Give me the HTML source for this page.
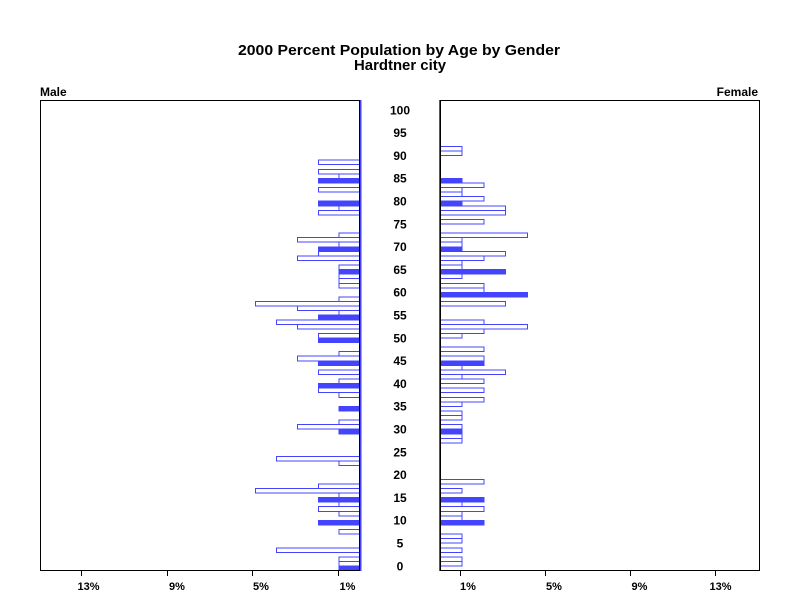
<!DOCTYPE html>
<html>
<head>
<meta charset="utf-8">
<style>
html,body{margin:0;padding:0;background:#fff;}
svg{display:block;}
text{font-family:"Liberation Sans",Arial,sans-serif;fill:#000;}
</style>
</head>
<body>
<svg width="800" height="600" viewBox="0 0 800 600" xmlns="http://www.w3.org/2000/svg">
<rect x="0" y="0" width="800" height="600" fill="#fff"/>
<text x="399" y="55" font-size="15" font-weight="bold" text-anchor="middle" textLength="322" lengthAdjust="spacingAndGlyphs">2000 Percent Population by Age by Gender</text>
<text x="400" y="70" font-size="15" font-weight="bold" text-anchor="middle" textLength="92" lengthAdjust="spacingAndGlyphs">Hardtner city</text>
<text x="40" y="96" font-size="12" font-weight="bold">Male</text>
<text x="758" y="96" font-size="12" font-weight="bold" text-anchor="end">Female</text>

<!-- Male bars -->
<g stroke="#4444ff" stroke-width="1" fill="#fff" shape-rendering="crispEdges">
<rect x="339.1" y="566" width="20.9" height="4.56" fill="#4444ff"/>
<rect x="339.1" y="561.44" width="20.9" height="4.56"/>
<rect x="339.1" y="556.88" width="20.9" height="4.56"/>
<rect x="276.6" y="547.76" width="83.4" height="4.56"/>
<rect x="339.1" y="529.52" width="20.9" height="4.56"/>
<rect x="318.3" y="520.4" width="41.7" height="4.56" fill="#4444ff"/>
<rect x="339.1" y="511.28" width="20.9" height="4.56"/>
<rect x="318.3" y="506.72" width="41.7" height="4.56"/>
<rect x="339.1" y="502.16" width="20.9" height="4.56"/>
<rect x="318.3" y="497.6" width="41.7" height="4.56" fill="#4444ff"/>
<rect x="339.1" y="493.04" width="20.9" height="4.56"/>
<rect x="255.7" y="488.48" width="104.3" height="4.56"/>
<rect x="318.3" y="483.92" width="41.7" height="4.56"/>
<rect x="339.1" y="461.12" width="20.9" height="4.56"/>
<rect x="276.6" y="456.56" width="83.4" height="4.56"/>
<rect x="339.1" y="429.2" width="20.9" height="4.56" fill="#4444ff"/>
<rect x="297.4" y="424.64" width="62.6" height="4.56"/>
<rect x="339.1" y="420.08" width="20.9" height="4.56"/>
<rect x="339.1" y="406.4" width="20.9" height="4.56" fill="#4444ff"/>
<rect x="339.1" y="392.72" width="20.9" height="4.56"/>
<rect x="318.3" y="388.16" width="41.7" height="4.56"/>
<rect x="318.3" y="383.6" width="41.7" height="4.56" fill="#4444ff"/>
<rect x="339.1" y="379.04" width="20.9" height="4.56"/>
<rect x="318.3" y="369.92" width="41.7" height="4.56"/>
<rect x="318.3" y="360.8" width="41.7" height="4.56" fill="#4444ff"/>
<rect x="297.4" y="356.24" width="62.6" height="4.56"/>
<rect x="339.1" y="351.68" width="20.9" height="4.56"/>
<rect x="318.3" y="338" width="41.7" height="4.56" fill="#4444ff"/>
<rect x="318.3" y="333.44" width="41.7" height="4.56"/>
<rect x="297.4" y="324.32" width="62.6" height="4.56"/>
<rect x="276.6" y="319.76" width="83.4" height="4.56"/>
<rect x="318.3" y="315.2" width="41.7" height="4.56" fill="#4444ff"/>
<rect x="339.1" y="310.64" width="20.9" height="4.56"/>
<rect x="297.4" y="306.08" width="62.6" height="4.56"/>
<rect x="255.7" y="301.52" width="104.3" height="4.56"/>
<rect x="339.1" y="296.96" width="20.9" height="4.56"/>
<rect x="339.1" y="283.28" width="20.9" height="4.56"/>
<rect x="339.1" y="278.72" width="20.9" height="4.56"/>
<rect x="339.1" y="274.16" width="20.9" height="4.56"/>
<rect x="339.1" y="269.6" width="20.9" height="4.56" fill="#4444ff"/>
<rect x="339.1" y="265.04" width="20.9" height="4.56"/>
<rect x="297.4" y="255.92" width="62.6" height="4.56"/>
<rect x="318.3" y="251.36" width="41.7" height="4.56"/>
<rect x="318.3" y="246.8" width="41.7" height="4.56" fill="#4444ff"/>
<rect x="339.1" y="242.24" width="20.9" height="4.56"/>
<rect x="297.4" y="237.68" width="62.6" height="4.56"/>
<rect x="339.1" y="233.12" width="20.9" height="4.56"/>
<rect x="318.3" y="210.32" width="41.7" height="4.56"/>
<rect x="339.1" y="205.76" width="20.9" height="4.56"/>
<rect x="318.3" y="201.2" width="41.7" height="4.56" fill="#4444ff"/>
<rect x="318.3" y="187.52" width="41.7" height="4.56"/>
<rect x="318.3" y="178.4" width="41.7" height="4.56" fill="#4444ff"/>
<rect x="339.1" y="173.84" width="20.9" height="4.56"/>
<rect x="318.3" y="169.28" width="41.7" height="4.56"/>
<rect x="318.3" y="160.16" width="41.7" height="4.56"/>
</g>

<!-- Female bars -->
<g stroke="#4444ff" stroke-width="1" fill="#fff" shape-rendering="crispEdges">
<rect x="440" y="561.44" width="21.9" height="4.56"/>
<rect x="440" y="556.88" width="21.9" height="4.56"/>
<rect x="440" y="547.76" width="21.9" height="4.56"/>
<rect x="440" y="538.64" width="21.9" height="4.56"/>
<rect x="440" y="534.08" width="21.9" height="4.56"/>
<rect x="440" y="520.4" width="43.8" height="4.56" fill="#4444ff"/>
<rect x="440" y="515.84" width="21.9" height="4.56"/>
<rect x="440" y="511.28" width="21.9" height="4.56"/>
<rect x="440" y="506.72" width="43.8" height="4.56"/>
<rect x="440" y="502.16" width="21.9" height="4.56"/>
<rect x="440" y="497.6" width="43.8" height="4.56" fill="#4444ff"/>
<rect x="440" y="488.48" width="21.9" height="4.56"/>
<rect x="440" y="479.36" width="43.8" height="4.56"/>
<rect x="440" y="438.32" width="21.9" height="4.56"/>
<rect x="440" y="433.76" width="21.9" height="4.56"/>
<rect x="440" y="429.2" width="21.9" height="4.56" fill="#4444ff"/>
<rect x="440" y="424.64" width="21.9" height="4.56"/>
<rect x="440" y="415.52" width="21.9" height="4.56"/>
<rect x="440" y="410.96" width="21.9" height="4.56"/>
<rect x="440" y="401.84" width="21.9" height="4.56"/>
<rect x="440" y="397.28" width="43.8" height="4.56"/>
<rect x="440" y="388.16" width="43.8" height="4.56"/>
<rect x="440" y="379.04" width="43.8" height="4.56"/>
<rect x="440" y="374.48" width="21.9" height="4.56"/>
<rect x="440" y="369.92" width="65.7" height="4.56"/>
<rect x="440" y="365.36" width="21.9" height="4.56"/>
<rect x="440" y="360.8" width="43.8" height="4.56" fill="#4444ff"/>
<rect x="440" y="356.24" width="43.8" height="4.56"/>
<rect x="440" y="347.12" width="43.8" height="4.56"/>
<rect x="440" y="333.44" width="21.9" height="4.56"/>
<rect x="440" y="328.88" width="43.8" height="4.56"/>
<rect x="440" y="324.32" width="87.6" height="4.56"/>
<rect x="440" y="319.76" width="43.8" height="4.56"/>
<rect x="440" y="301.52" width="65.7" height="4.56"/>
<rect x="440" y="292.4" width="87.6" height="4.56" fill="#4444ff"/>
<rect x="440" y="287.84" width="43.8" height="4.56"/>
<rect x="440" y="283.28" width="43.8" height="4.56"/>
<rect x="440" y="274.16" width="21.9" height="4.56"/>
<rect x="440" y="269.6" width="65.7" height="4.56" fill="#4444ff"/>
<rect x="440" y="265.04" width="21.9" height="4.56"/>
<rect x="440" y="260.48" width="21.9" height="4.56"/>
<rect x="440" y="255.92" width="43.8" height="4.56"/>
<rect x="440" y="251.36" width="65.7" height="4.56"/>
<rect x="440" y="246.8" width="21.9" height="4.56" fill="#4444ff"/>
<rect x="440" y="242.24" width="21.9" height="4.56"/>
<rect x="440" y="237.68" width="21.9" height="4.56"/>
<rect x="440" y="233.12" width="87.6" height="4.56"/>
<rect x="440" y="219.44" width="43.8" height="4.56"/>
<rect x="440" y="210.32" width="65.7" height="4.56"/>
<rect x="440" y="205.76" width="65.7" height="4.56"/>
<rect x="440" y="201.2" width="21.9" height="4.56" fill="#4444ff"/>
<rect x="440" y="196.64" width="43.8" height="4.56"/>
<rect x="440" y="192.08" width="21.9" height="4.56"/>
<rect x="440" y="187.52" width="21.9" height="4.56"/>
<rect x="440" y="182.96" width="43.8" height="4.56"/>
<rect x="440" y="178.4" width="21.9" height="4.56" fill="#4444ff"/>
<rect x="440" y="151.04" width="21.9" height="4.56"/>
<rect x="440" y="146.48" width="21.9" height="4.56"/>
</g>

<!-- Frames -->
<g stroke="#000" stroke-width="1" fill="none" shape-rendering="crispEdges">
<rect x="40.5" y="100.5" width="319" height="470"/>
<rect x="440.5" y="100.5" width="319" height="470"/>
<line x1="338.5" y1="570" x2="338.5" y2="576"/>
<line x1="252.5" y1="570" x2="252.5" y2="576"/>
<line x1="167.5" y1="570" x2="167.5" y2="576"/>
<line x1="81.5" y1="570" x2="81.5" y2="576"/>
<line x1="460.5" y1="570" x2="460.5" y2="576"/>
<line x1="545.5" y1="570" x2="545.5" y2="576"/>
<line x1="630.5" y1="570" x2="630.5" y2="576"/>
<line x1="715.5" y1="570" x2="715.5" y2="576"/>
</g>
<!-- Blue zero axes -->
<rect x="360" y="100" width="1.5" height="471" fill="#4444ff" shape-rendering="crispEdges"/>
<rect x="439" y="100" width="1" height="471" fill="#4444ff" shape-rendering="crispEdges"/>

<!-- Tick labels -->
<g font-size="11" font-weight="bold" text-anchor="middle">
<text x="88.5" y="590">13%</text>
<text x="177" y="590">9%</text>
<text x="261" y="590">5%</text>
<text x="347.5" y="590">1%</text>
<text x="468" y="590">1%</text>
<text x="554" y="590">5%</text>
<text x="639.5" y="590">9%</text>
<text x="720.5" y="590">13%</text>
</g>

<!-- Age labels -->
<g font-size="12" font-weight="bold" text-anchor="middle">
<text x="400" y="570.3">0</text>
<text x="400" y="547.5">5</text>
<text x="400" y="524.7">10</text>
<text x="400" y="501.9">15</text>
<text x="400" y="479.1">20</text>
<text x="400" y="456.3">25</text>
<text x="400" y="433.5">30</text>
<text x="400" y="410.7">35</text>
<text x="400" y="387.9">40</text>
<text x="400" y="365.1">45</text>
<text x="400" y="342.3">50</text>
<text x="400" y="319.5">55</text>
<text x="400" y="296.7">60</text>
<text x="400" y="273.9">65</text>
<text x="400" y="251.1">70</text>
<text x="400" y="228.3">75</text>
<text x="400" y="205.5">80</text>
<text x="400" y="182.7">85</text>
<text x="400" y="159.9">90</text>
<text x="400" y="137.1">95</text>
<text x="400" y="114.3">100</text>
</g>
</svg>
</body>
</html>
